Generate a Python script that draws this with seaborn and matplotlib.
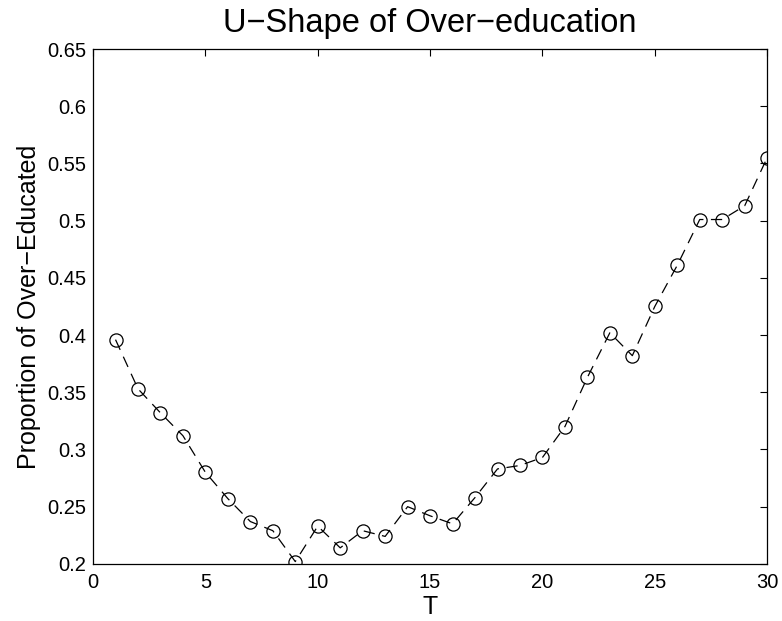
import matplotlib
matplotlib.use("Agg")
import matplotlib.pyplot as plt
import seaborn as sns
import pandas as pd

T = list(range(1, 31))
proportion = [0.396, 0.353, 0.332, 0.312, 0.280, 0.257, 0.237, 0.229, 0.202, 0.233,
              0.214, 0.229, 0.224, 0.250, 0.242, 0.235, 0.258, 0.283, 0.286, 0.293,
              0.320, 0.363, 0.402, 0.382, 0.425, 0.461, 0.501, 0.501, 0.513, 0.555]
xticks = [0, 5, 10, 15, 20, 25, 30]
yticks = [0.2, 0.25, 0.3, 0.35, 0.4, 0.45, 0.5, 0.55, 0.6, 0.65]
ytick_labels = ["0.2", "0.25", "0.3", "0.35", "0.4", "0.45", "0.5", "0.55", "0.6", "0.65"]

sns.set_style("white")
plt.rcParams['font.family'] = ['Liberation Sans', 'DejaVu Sans']
plt.rcParams['text.color'] = 'black'
plt.rcParams['axes.labelcolor'] = 'black'

df = pd.DataFrame({"T": T, "p": proportion})
fig = plt.figure(figsize=(7.82, 6.21), dpi=100)
ax = fig.add_axes([0.119, 0.092, 0.862, 0.829])
sns.lineplot(data=df, x="T", y="p", ax=ax, color="black", linewidth=0.9,
             linestyle=(0, (9, 6)), marker="o", markersize=9.5,
             markerfacecolor="none", markeredgecolor="black", markeredgewidth=0.9)
ax.set_xlim(0, 30)
ax.set_ylim(0.2, 0.65)
ax.set_xticks(xticks)
ax.set_xticklabels([str(v) for v in xticks])
ax.set_yticks(yticks)
ax.set_yticklabels(ytick_labels)
ax.tick_params(direction="in", top=True, right=True, length=5, width=0.8,
               labelsize=14.5, colors="black")
ax.tick_params(axis="x", pad=6.5)
ax.tick_params(axis="y", pad=5)
for s in ax.spines.values():
    s.set_color("black")
    s.set_linewidth(0.9)
ax.set_xlabel("T", fontsize=18, labelpad=2, color="black")
ax.set_ylabel("Proportion of Over\u2212Educated", fontsize=18, labelpad=4, color="black")
ax.set_title("U\u2212Shape of Over\u2212education", fontsize=23.5, pad=12, color="black")
fig.savefig("out.png", dpi=100)
